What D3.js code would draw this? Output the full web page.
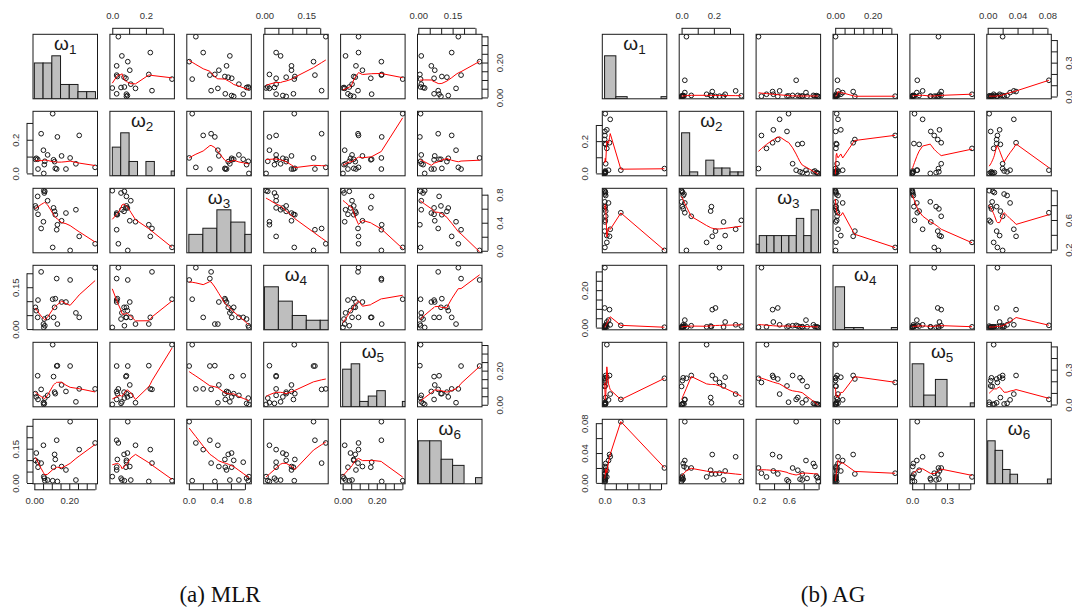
<!DOCTYPE html>
<html>
<head>
<meta charset="utf-8">
<title>Pairwise weight distributions: MLR vs AG</title>
<script src="https://cdn.jsdelivr.net/npm/d3@7/dist/d3.min.js"></script>
<style>
  html, body { margin: 0; padding: 0; background: #ffffff; }
  svg { display: block; }
</style>
</head>
<body>
<svg id="chart" width="1072" height="608"></svg>
<script>
// ---- Criterion weights ω1..ω6, one value per run (22 runs per method) ----
const mlrW1 = [0.006, 0.011, 0.019, 0.021, 0.039, 0.052, 0.054, 0.057, 0.060, 0.076, 0.105, 0.110, 0.116, 0.120, 0.128, 0.132, 0.156, 0.181, 0.205, 0.238, 0.257, 0.348];
const mlrW2 = [0.084, 0.090, 0.084, 0.026, 0.236, 0.138, 0.000, 0.052, 0.072, 0.110, 0.355, 0.081, 0.070, 0.030, 0.026, 0.217, 0.104, 0.026, 0.092, 0.057, 0.226, 0.036];
const mlrW3 = [0.640, 0.610, 0.776, 0.520, 0.318, 0.414, 0.857, 0.824, 0.848, 0.714, 0.048, 0.612, 0.562, 0.514, 0.300, 0.371, 0.428, 0.538, 0.005, 0.585, 0.205, 0.100];
const mlrW4 = [0.078, 0.066, 0.042, 0.104, 0.205, 0.018, 0.006, 0.036, 0.012, 0.042, 0.107, 0.042, 0.078, 0.109, 0.181, 0.018, 0.097, 0.097, 0.176, 0.058, 0.042, 0.220];
const mlrW5 = [0.065, 0.046, 0.170, 0.031, 0.090, 0.012, 0.002, 0.008, 0.039, 0.055, 0.352, 0.165, 0.074, 0.065, 0.227, 0.229, 0.116, 0.078, 0.227, 0.017, 0.093, 0.093];
const mlrW6 = [0.099, 0.131, 0.091, 0.069, 0.087, 0.165, 0.028, 0.021, 0.010, 0.013, 0.010, 0.069, 0.125, 0.103, 0.187, 0.007, 0.072, 0.057, 0.268, 0.013, 0.146, 0.175];

const agW1 = [0.530, 0.144, 0.003, 0.020, 0.006, 0.050, 0.020, 0.003, 0.044, 0.001, 0.010, 0.004, 0.002, 0.003, 0.002, 0.010, 0.035, 0.010, 0.005, 0.008, 0.003, 0.001];
const agW2 = [0.030, 0.020, 0.235, 0.155, 0.370, 0.335, 0.270, 0.260, 0.190, 0.210, 0.180, 0.185, 0.000, 0.005, 0.010, 0.060, 0.020, 0.010, 0.015, 0.005, 0.002, 0.000];
const agW3 = [0.190, 0.698, 0.230, 0.298, 0.595, 0.475, 0.390, 0.574, 0.380, 0.450, 0.720, 0.780, 0.845, 0.780, 0.750, 0.650, 0.830, 0.930, 0.950, 0.970, 0.985, 0.995];
const agW4 = [0.002, 0.012, 0.320, 0.004, 0.008, 0.015, 0.030, 0.003, 0.096, 0.105, 0.008, 0.005, 0.004, 0.002, 0.003, 0.010, 0.040, 0.015, 0.005, 0.004, 0.002, 0.001];
const agW5 = [0.226, 0.044, 0.190, 0.515, 0.020, 0.090, 0.235, 0.160, 0.250, 0.220, 0.060, 0.015, 0.156, 0.206, 0.230, 0.250, 0.040, 0.010, 0.005, 0.004, 0.001, 0.001];
const agW6 = [0.020, 0.082, 0.013, 0.008, 0.002, 0.035, 0.016, 0.004, 0.038, 0.012, 0.017, 0.012, 0.006, 0.004, 0.005, 0.020, 0.030, 0.026, 0.022, 0.009, 0.007, 0.002];

// ---- Axis ticks per weight, and the label printed at each tick ("" = unlabelled tick) ----
const mlrTicks = [
  [0, 0.05, 0.10, 0.15, 0.20, 0.25, 0.30, 0.35],
  [0, 0.1, 0.2, 0.3],
  [0, 0.2, 0.4, 0.6, 0.8],
  [0, 0.05, 0.10, 0.15, 0.20],
  [0, 0.05, 0.10, 0.15, 0.20, 0.25, 0.30, 0.35],
  [0, 0.05, 0.10, 0.15, 0.20, 0.25]
];
const mlrTickLabels = [
  ["0.00", "", "", "", "0.20", "", "", ""],
  ["0.0", "", "0.2", ""],
  ["0.0", "", "0.4", "", "0.8"],
  ["0.00", "", "", "0.15", ""],
  ["0.00", "", "", "", "0.20", "", "", ""],
  ["0.00", "", "", "0.15", "", ""]
];
const agTicks = [
  [0, 0.1, 0.2, 0.3, 0.4, 0.5],
  [0, 0.1, 0.2, 0.3],
  [0.2, 0.4, 0.6, 0.8, 1.0],
  [0, 0.05, 0.10, 0.15, 0.20, 0.25, 0.30],
  [0, 0.1, 0.2, 0.3, 0.4, 0.5],
  [0, 0.02, 0.04, 0.06, 0.08]
];
const agTickLabels = [
  ["0.0", "", "", "0.3", "", ""],
  ["0.0", "", "0.2", ""],
  ["0.2", "", "0.6", "", ""],
  ["0.00", "", "", "", "0.20", "", ""],
  ["0.0", "", "", "0.3", "", ""],
  ["0.00", "", "0.04", "", "0.08"]
];

const weightSubscripts = ["1", "2", "3", "4", "5", "6"];
const captions = ["(a) MLR", "(b) AG"];

// ---- Layout ----
const GRID = { panel: 64.5, pitchX: 76.9, pitchY: 77, top: 34.3, axisOff: 6 };
const blocks = [
  { left: 33,    weights: [mlrW1, mlrW2, mlrW3, mlrW4, mlrW5, mlrW6], ticks: mlrTicks, labels: mlrTickLabels, caption: captions[0], capX: 220 },
  { left: 602.3, weights: [agW1, agW2, agW3, agW4, agW5, agW6],       ticks: agTicks,  labels: agTickLabels,  caption: captions[1], capX: 833 }
];

const INK = "#1a1a1a";
const AXIS_FONT = "'Liberation Sans', Arial, Helvetica, sans-serif";

const svg = d3.select("#chart");
svg.append("rect").attr("width", 1072).attr("height", 608).attr("fill", "#ffffff");
const defs = svg.append("defs");

// Locally weighted scatterplot smoother (Cleveland's LOWESS, as in R's lowess()).
function lowess(xs0, ys0, f = 2 / 3, nsteps = 3) {
  const order = d3.range(xs0.length).sort((a, b) => xs0[a] - xs0[b]);
  const x = order.map(i => xs0[i]), y = order.map(i => ys0[i]);
  const n = x.length;
  const delta = 0.01 * (x[n - 1] - x[0]);
  const ys = new Array(n).fill(0), rw = new Array(n).fill(1), res = new Array(n).fill(0), w = new Array(n).fill(0);
  const ns = Math.max(2, Math.min(n, Math.floor(f * n + 1e-7)));
  const range = x[n - 1] - x[0];

  function lowest(xsv, nleft, nright, userw) {
    const h = Math.max(xsv - x[nleft], x[nright] - xsv);
    const h9 = 0.999 * h, h1 = 0.001 * h;
    let a = 0, j = nleft;
    while (j < n) {
      w[j] = 0;
      const r = Math.abs(x[j] - xsv);
      if (r <= h9) {
        w[j] = r <= h1 ? 1 : Math.pow(1 - Math.pow(r / h, 3), 3);
        if (userw) w[j] *= rw[j];
        a += w[j];
      } else if (x[j] > xsv) break;
      j++;
    }
    const nrt = j - 1;
    if (a <= 0) return null;
    for (j = nleft; j <= nrt; j++) w[j] /= a;
    if (h > 0) {
      a = 0;
      for (j = nleft; j <= nrt; j++) a += w[j] * x[j];
      let b = xsv - a, c = 0;
      for (j = nleft; j <= nrt; j++) c += w[j] * (x[j] - a) * (x[j] - a);
      if (Math.sqrt(c) > 0.001 * range) {
        b /= c;
        for (j = nleft; j <= nrt; j++) w[j] *= (b * (x[j] - a) + 1);
      }
    }
    let s = 0;
    for (j = nleft; j <= nrt; j++) s += w[j] * y[j];
    return s;
  }

  for (let it = 1; it <= nsteps + 1; it++) {
    let nleft = 0, nright = ns - 1, last = -1, i = 0;
    for (;;) {
      if (nright < n - 1) {
        const d1 = x[i] - x[nleft], d2 = x[nright + 1] - x[i];
        if (d1 > d2) { nleft++; nright++; continue; }
      }
      const fit = lowest(x[i], nleft, nright, it > 1);
      ys[i] = fit === null ? y[i] : fit;
      if (last < i - 1) {
        const denom = x[i] - x[last];
        for (let j = last + 1; j < i; j++) {
          const alpha = (x[j] - x[last]) / denom;
          ys[j] = alpha * ys[i] + (1 - alpha) * ys[last];
        }
      }
      last = i;
      const cut = x[last] + delta;
      for (i = last + 1; i < n; i++) {
        if (x[i] > cut) break;
        if (x[i] === x[last]) { ys[i] = ys[last]; last = i; }
      }
      i = Math.max(last + 1, i - 1);
      if (last >= n - 1) break;
    }
    for (let k = 0; k < n; k++) res[k] = y[k] - ys[k];
    const sc = d3.sum(res, r => Math.abs(r)) / n;
    if (it > nsteps) break;
    const ar = res.map(Math.abs);
    const sorted = ar.slice().sort((a, b) => a - b);
    const m1 = Math.floor(n / 2);
    const cmad = n % 2 === 0 ? 3 * (sorted[m1 - 1] + sorted[m1]) : 6 * sorted[m1];
    if (cmad < 1e-7 * sc) break;
    const c9 = 0.999 * cmad, c1 = 0.001 * cmad;
    for (let k = 0; k < n; k++) {
      const r = ar[k];
      rw[k] = r <= c1 ? 1 : r > c9 ? 0 : Math.pow(1 - (r / cmad) * (r / cmad), 2);
    }
  }
  return x.map((xv, k) => [xv, ys[k]]);
}

// Histogram with Sturges classes on pretty breaks, right-closed bins.
function histogram(values) {
  const [mn, mx] = d3.extent(values);
  const step = d3.tickStep(mn, mx, d3.thresholdSturges(values));
  const lo = Math.floor(mn / step + 1e-9) * step;
  const hi = Math.ceil(mx / step - 1e-9) * step;
  const nb = Math.max(1, Math.round((hi - lo) / step));
  const counts = new Array(nb).fill(0);
  values.forEach(v => {
    let k = Math.ceil((v - lo) / step - 1e-7) - 1;
    counts[Math.max(0, Math.min(nb - 1, k))]++;
  });
  return counts.map((c, k) => ({ x0: lo + k * step, x1: lo + (k + 1) * step, count: c }));
}

function styleAxis(ag) {
  ag.attr("font-family", AXIS_FONT).attr("font-size", 9.5).attr("color", INK);
  ag.selectAll("text").attr("fill", "#333");
  ag.selectAll("line").attr("stroke-width", 1);
}

function drawAxis(parent, side, scale, ticks, labels, px, py) {
  const [d0, d1] = scale.domain();
  const keep = ticks.map((t, k) => ({ t, lab: labels[k] })).filter(o => o.t >= d0 - 1e-12 && o.t <= d1 + 1e-12);
  const vals = keep.map(o => o.t);
  const fmt = (d, k) => keep[k].lab;
  const off = GRID.axisOff, P = GRID.panel;
  let ag, gen;
  if (side === "top") {
    gen = d3.axisTop(scale).tickValues(vals).tickFormat(fmt).tickSizeInner(-off).tickSizeOuter(0).tickPadding(9.5);
    ag = parent.append("g").attr("transform", `translate(0,${py - off})`).call(gen);
    ag.select(".domain").attr("d", `M${scale(vals[0])},0H${scale(vals[vals.length - 1])}`);
  } else if (side === "bottom") {
    gen = d3.axisBottom(scale).tickValues(vals).tickFormat(fmt).tickSizeInner(-off).tickSizeOuter(0).tickPadding(7.8);
    ag = parent.append("g").attr("transform", `translate(0,${py + P + off})`).call(gen);
    ag.select(".domain").attr("d", `M${scale(vals[0])},0H${scale(vals[vals.length - 1])}`);
  } else if (side === "left") {
    gen = d3.axisLeft(scale).tickValues(vals).tickFormat(fmt).tickSizeInner(-off).tickSizeOuter(0);
    ag = parent.append("g").attr("transform", `translate(${px - off},0)`).call(gen);
    ag.select(".domain").attr("d", `M0,${scale(vals[0])}V${scale(vals[vals.length - 1])}`);
    ag.selectAll(".tick text").attr("x", null).attr("dy", null).attr("text-anchor", "middle")
      .attr("transform", `translate(${-14.5 + off},0) rotate(-90)`);
  } else {
    gen = d3.axisRight(scale).tickValues(vals).tickFormat(fmt).tickSizeInner(-off).tickSizeOuter(0);
    ag = parent.append("g").attr("transform", `translate(${px + P + off},0)`).call(gen);
    ag.select(".domain").attr("d", `M0,${scale(vals[0])}V${scale(vals[vals.length - 1])}`);
    ag.selectAll(".tick text").attr("x", null).attr("dy", null).attr("text-anchor", "middle")
      .attr("transform", `translate(${21 - off},0) rotate(-90)`);
  }
  styleAxis(ag);
}

blocks.forEach((blk, bi) => {
  const g = svg.append("g").attr("class", "pairs");
  const nv = blk.weights.length;
  const P = GRID.panel;
  const sx = [], sy = [];
  blk.weights.forEach((vals, k) => {
    const [lo, hi] = d3.extent(vals);
    const pad = 0.04 * (hi - lo);
    const px = blk.left + k * GRID.pitchX, py = GRID.top + k * GRID.pitchY;
    sx[k] = d3.scaleLinear().domain([lo - pad, hi + pad]).range([px, px + P]);
    sy[k] = d3.scaleLinear().domain([lo - pad, hi + pad]).range([py + P, py]);
  });

  for (let i = 0; i < nv; i++) {
    for (let j = 0; j < nv; j++) {
      const px = blk.left + j * GRID.pitchX, py = GRID.top + i * GRID.pitchY;
      const cell = g.append("g");
      const clipId = `clip-${bi}-${i}-${j}`;
      defs.append("clipPath").attr("id", clipId)
        .append("rect").attr("x", px).attr("y", py).attr("width", P).attr("height", P);
      const inner = cell.append("g").attr("clip-path", `url(#${clipId})`);

      if (i === j) {
        const bins = histogram(blk.weights[i]);
        const maxC = d3.max(bins, b => b.count);
        const hy = d3.scaleLinear().domain([0, 1.5]).range([py + P, py]);
        inner.selectAll("rect.bar").data(bins).join("rect")
          .attr("class", "bar")
          .attr("x", b => sx[j](b.x0))
          .attr("width", b => sx[j](b.x1) - sx[j](b.x0))
          .attr("y", b => hy(b.count / maxC))
          .attr("height", b => hy(0) - hy(b.count / maxC))
          .attr("fill", "#bebebe").attr("stroke", INK).attr("stroke-width", 1);
        const lab = cell.append("text")
          .attr("x", px + P / 2).attr("y", py + 16)
          .attr("text-anchor", "middle")
          .attr("font-family", AXIS_FONT).attr("font-size", 19).attr("fill", INK);
        lab.append("tspan").text("ω");
        lab.append("tspan").attr("font-size", 13.5).attr("dy", 4).text(weightSubscripts[i]);
      } else {
        const xs = blk.weights[j], ys = blk.weights[i];
        const pts = xs.map((v, k) => [v, ys[k]]);
        inner.selectAll("circle").data(pts).join("circle")
          .attr("cx", d => sx[j](d[0])).attr("cy", d => sy[i](d[1]))
          .attr("r", 2.35).attr("fill", "none").attr("stroke", INK).attr("stroke-width", 1);
        const smooth = lowess(xs, ys);
        inner.append("path")
          .attr("d", d3.line().x(d => sx[j](d[0])).y(d => sy[i](d[1]))(smooth))
          .attr("fill", "none").attr("stroke", "#ff0000").attr("stroke-width", 1);
      }

      cell.append("rect").attr("x", px).attr("y", py).attr("width", P).attr("height", P)
        .attr("fill", "none").attr("stroke", INK).attr("stroke-width", 1);

      if (i === 0 && j % 2 === 1) drawAxis(cell, "top", sx[j], blk.ticks[j], blk.labels[j], px, py);
      if (i === nv - 1 && j % 2 === 0) drawAxis(cell, "bottom", sx[j], blk.ticks[j], blk.labels[j], px, py);
      if (j === 0 && i % 2 === 1) drawAxis(cell, "left", sy[i], blk.ticks[i], blk.labels[i], px, py);
      if (j === nv - 1 && i % 2 === 0) drawAxis(cell, "right", sy[i], blk.ticks[i], blk.labels[i], px, py);
    }
  }

  svg.append("text")
    .attr("x", blk.capX).attr("y", 602)
    .attr("text-anchor", "middle")
    .attr("font-family", "'Liberation Serif', 'Times New Roman', serif")
    .attr("font-size", 23).attr("fill", "#111")
    .text(blk.caption);
});
</script>
</body>
</html>
